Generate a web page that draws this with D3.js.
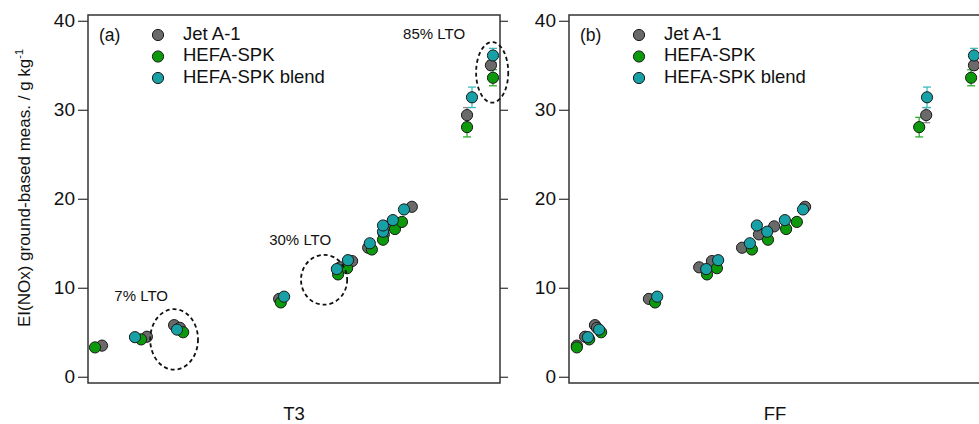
<!DOCTYPE html>
<html>
<head>
<meta charset="utf-8">
<script src="https://cdn.jsdelivr.net/npm/d3@7"></script>
<style>
  body { margin: 0; background: #fff; }
  svg { display: block; font-family: Arial, "Liberation Sans", sans-serif; }
</style>
</head>
<body>
<svg width="979" height="424"></svg>
<script>
// fuel names (legend order)
const seriesNames = ["Jet A-1", "HEFA-SPK", "HEFA-SPK blend"];
const seriesColors = ["#6a6a6a", "#0c9a0c", "#17a0a6"];
const errColors = ["#8a8a8a", "#2fae2f", "#3cbcbc"];

// EI(NOx) in g/kg, position on T3 and FF axes (relative units, 0-100)
const jetEI  = [3.5, 4.5, 5.8, 5.5, 8.75, 12.3, 13.0, 14.5, 16.0, 16.9, 19.1, 29.4, 35.0];
const jetT3  = [3.4, 14.3, 20.9, 22.3, 46.4, 61.2, 64.1, 68.0, 71.8, 72.1, 78.6, 92.0, 97.8];
const jetFF  = [1.9, 3.9, 6.3, 6.8, 19.4, 31.6, 34.7, 42.0, 46.1, 49.8, 57.3, 86.7, 98.3];
const jetErr = [0, 0, 0, 0, 0, 0, 0, 0, 0, 0, 0, 0.85, 0.5];

const hefaEI  = [3.3, 4.2, 5.0, 8.35, 11.5, 12.2, 14.3, 15.4, 16.6, 17.4, 28.05, 33.6];
const hefaT3  = [1.7, 12.9, 23.1, 46.8, 60.7, 62.9, 68.9, 71.6, 74.5, 76.2, 92.0, 98.3];
const hefaFF  = [1.9, 4.9, 7.8, 20.9, 33.5, 35.9, 44.4, 48.3, 52.7, 55.3, 85.0, 97.6];
const hefaErr = [0, 0, 0, 0, 0, 0, 0, 0, 0, 0, 1.1, 0.9];

const blendEI  = [4.45, 5.3, 9.0, 12.1, 13.1, 15.0, 16.3, 17.0, 17.6, 18.8, 31.4, 36.1];
const blendT3  = [11.4, 21.6, 47.6, 60.4, 63.1, 68.4, 71.6, 71.6, 74.0, 76.7, 93.2, 98.3];
const blendFF  = [4.6, 7.3, 21.4, 33.3, 36.2, 43.9, 48.1, 45.6, 52.4, 56.8, 86.9, 98.3];
const blendErr = [0, 0, 0, 0, 0, 0, 0, 0, 0, 0, 1.15, 0.8];

const yTicks = [0, 10, 20, 30, 40];
const panelTags = ["(a)", "(b)"];
const panelXLabels = ["T3", "FF"];

// LTO annotations in panel (a): ellipse centre / radii in data units
const ltoLabels = ["7% LTO", "30% LTO", "85% LTO"];
const ltoCx = [20.9, 57.3, 98.1];
const ltoCy = [4.2, 10.9, 34.2];
const ltoRx = [5.8, 5.6, 3.9];
const ltoRy = [3.4, 2.8, 3.4];
const ltoTextX = [12.9, 51.5, 84.0];
const ltoTextY = [9.0, 15.3, 38.4];

const buildSeries = (key) => [
    {name: seriesNames[0], ei: jetEI, x: key == "T3" ? jetT3 : jetFF, err: jetErr},
    {name: seriesNames[1], ei: hefaEI, x: key == "T3" ? hefaT3 : hefaFF, err: hefaErr},
    {name: seriesNames[2], ei: blendEI, x: key == "T3" ? blendT3 : blendFF, err: blendErr}
].map((s, i) => ({...s, color: seriesColors[i], errColor: errColors[i],
                  points: s.ei.map((v, j) => ({x: s.x[j], y: v, e: s.err[j]}))}));

const svg = d3.select("svg");

const attr_area = {
    top: 15,
    height: 368,
    width: 412,
    lefts: [88, 569]
};

const scY = d3.scaleLinear()
              .domain([-0.7, 40.65])
              .range([attr_area.height, 0]);

const scX = d3.scaleLinear()
              .domain([0, 100])
              .range([0, attr_area.width]);

const drawPanel = (idx) => {
    const key = panelXLabels[idx];
    const g = svg.append("g")
                 .attr("transform", `translate(${attr_area.lefts[idx]}, ${attr_area.top})`);

    // left axis with labels
    const axL = g.append("g")
                 .call(d3.axisLeft(scY).tickValues(yTicks).tickSize(10).tickSizeOuter(0).tickPadding(3));
    axL.select(".domain").remove();
    axL.selectAll("line").attr("stroke", "#333").attr("stroke-width", 1.2);
    axL.selectAll("text").style("font-size", "19px").attr("fill", "#111")
       .attr("font-family", "Arial, 'Liberation Sans', sans-serif");

    // right axis, ticks only
    const axR = g.append("g")
                 .attr("transform", `translate(${attr_area.width}, 0)`)
                 .call(d3.axisRight(scY).tickValues(yTicks).tickSize(8).tickSizeOuter(0).tickFormat(""));
    axR.select(".domain").remove();
    axR.selectAll("line").attr("stroke", "#333").attr("stroke-width", 1.2);

    // frame
    g.append("rect")
     .attr("x", 0).attr("y", 0)
     .attr("width", attr_area.width).attr("height", attr_area.height)
     .attr("fill", "none").attr("stroke", "#333").attr("stroke-width", 1.5);

    // x label
    svg.append("text")
       .attr("x", attr_area.lefts[idx] + attr_area.width / 2)
       .attr("y", 420)
       .attr("text-anchor", "middle")
       .style("font-size", "18.5px")
       .attr("fill", "#111")
       .text(key);

    const data = buildSeries(key);

    // error bars
    data.forEach(s => {
        const withErr = s.points.filter(p => p.e > 0);
        const eg = g.append("g").attr("stroke", s.errColor).attr("stroke-width", 1.3);
        eg.selectAll(".ev").data(withErr).enter().append("line")
          .attr("x1", d => scX(d.x)).attr("x2", d => scX(d.x))
          .attr("y1", d => scY(d.y - d.e)).attr("y2", d => scY(d.y + d.e));
        eg.selectAll(".et").data(withErr).enter().append("line")
          .attr("x1", d => scX(d.x) - 4).attr("x2", d => scX(d.x) + 4)
          .attr("y1", d => scY(d.y + d.e)).attr("y2", d => scY(d.y + d.e));
        eg.selectAll(".eb").data(withErr).enter().append("line")
          .attr("x1", d => scX(d.x) - 4).attr("x2", d => scX(d.x) + 4)
          .attr("y1", d => scY(d.y - d.e)).attr("y2", d => scY(d.y - d.e));
    });

    // points: Jet A-1 first, then HEFA-SPK, blend on top
    data.forEach(s => {
        g.selectAll(".dot")
         .data(s.points)
         .enter()
         .append("circle")
         .attr("r", 5.6)
         .attr("cx", d => scX(d.x))
         .attr("cy", d => scY(d.y))
         .attr("fill", s.color)
         .attr("stroke", "#1a1a1a")
         .attr("stroke-width", 1);
    });

    // panel tag and legend
    g.append("text")
     .attr("x", 11).attr("y", 21)
     .attr("dominant-baseline", "middle")
     .style("font-size", "17.5px")
     .attr("fill", "#111")
     .text(panelTags[idx]);

    data.forEach((s, i) => {
        const ly = 20 + i * 21.5;
        g.append("circle")
         .attr("cx", 70).attr("cy", ly).attr("r", 5.6)
         .attr("fill", s.color).attr("stroke", "#1a1a1a").attr("stroke-width", 1);
        g.append("text")
         .attr("x", 95).attr("y", ly)
         .attr("dominant-baseline", "middle")
         .style("font-size", "18.5px")
         .attr("fill", "#111")
         .text(s.name);
    });

    if (idx == 0) {
        const ann = ltoLabels.map((t, i) => ({t: t, cx: ltoCx[i], cy: ltoCy[i], rx: ltoRx[i], ry: ltoRy[i],
                                              tx: ltoTextX[i], ty: ltoTextY[i]}));
        g.selectAll(".lto")
         .data(ann)
         .enter()
         .append("ellipse")
         .attr("cx", d => scX(d.cx))
         .attr("cy", d => scY(d.cy))
         .attr("rx", d => scX(d.rx) - scX(0))
         .attr("ry", d => scY(0) - scY(d.ry))
         .attr("fill", "none")
         .attr("stroke", "#111")
         .attr("stroke-width", 1.8)
         .attr("stroke-dasharray", "4,3");
        g.selectAll(".ltoText")
         .data(ann)
         .enter()
         .append("text")
         .attr("x", d => scX(d.tx))
         .attr("y", d => scY(d.ty))
         .attr("text-anchor", "middle")
         .attr("dominant-baseline", "middle")
         .style("font-size", "15px")
         .attr("fill", "#111")
         .text(d => d.t);
    }
}

drawPanel(0);
drawPanel(1);

// y label
const yl = svg.append("text")
              .attr("transform", "translate(30, 188) rotate(-90)")
              .attr("text-anchor", "middle")
              .style("font-size", "17px")
              .attr("fill", "#111");
yl.append("tspan").text("EI(NOx) ground-based meas. / g kg");
yl.append("tspan").attr("dy", -7).style("font-size", "11px").text("-1");
</script>
</body>
</html>
